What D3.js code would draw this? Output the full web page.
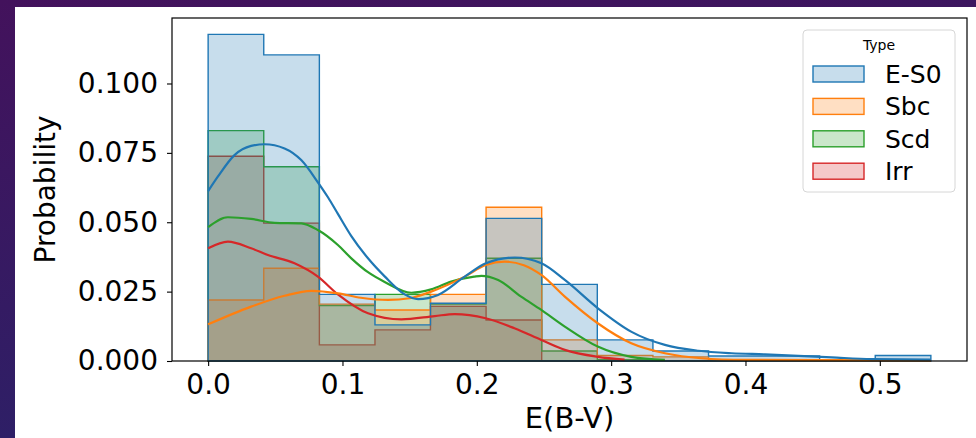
<!DOCTYPE html>
<html>
<head>
<meta charset="utf-8">
<title>E(B-V) histogram</title>
<script src="https://cdn.jsdelivr.net/npm/d3@7"></script>
<style>
  body { margin: 0; background: #ffffff; }
  svg { display: block; font-family: "DejaVu Sans", sans-serif; }
</style>
</head>
<body>
<svg width="976" height="438"></svg>
<script>
// histogram bins (E(B-V)), 13 bins from 0 to 0.538
var binEdges = [0, 0.0414, 0.0828, 0.1242, 0.1655, 0.2069, 0.2483, 0.2897, 0.3311, 0.3725, 0.4138, 0.4552, 0.4966, 0.538];
var types = ["E-S0", "Sbc", "Scd", "Irr"];
var colors = ["#1f77b4", "#ff7f0e", "#2ca02c", "#d62728"];

// probability per bin
var histES0 = [0.1177, 0.1103, 0.0240, 0.0130, 0.0208, 0.0514, 0.0276, 0.0076, 0.0036, 0.0018, 0.0018, 0, 0.0020];
var histSbc = [0.0220, 0.0334, 0.0205, 0.0184, 0.0240, 0.0554, 0.0076, 0.0020, 0.0015, 0.0005, 0, 0, 0];
var histScd = [0.0830, 0.0700, 0.0200, 0.0240, 0.0205, 0.0370, 0.0036, 0.0005, 0, 0, 0, 0, 0];
var histIrr = [0.0738, 0.0497, 0.0058, 0.0112, 0.0197, 0.0148, 0, 0, 0, 0, 0, 0, 0];

// kde curves, [x, y] points
var kdeES0 = [[0, 0.0612], [0.0072, 0.0664], [0.0196, 0.0742], [0.0320, 0.0775], [0.0420, 0.0781], [0.0569, 0.0766],
  [0.0693, 0.0724], [0.0817, 0.0644], [0.0892, 0.0590], [0.0966, 0.0530], [0.1066, 0.0450], [0.1190, 0.0370],
  [0.1314, 0.0305], [0.1463, 0.0240], [0.1563, 0.0223], [0.1712, 0.0238], [0.1910, 0.0304], [0.2068, 0.0352],
  [0.2283, 0.0373], [0.2481, 0.0352], [0.2655, 0.0292], [0.2904, 0.0189], [0.3152, 0.0105], [0.3400, 0.0058],
  [0.3649, 0.0037], [0.3897, 0.0028], [0.4145, 0.0024], [0.4642, 0.0013], [0.4940, 0.0007], [0.538, 0.0005]];
var kdeSbc = [[0, 0.0132], [0.0320, 0.0196], [0.0569, 0.0235], [0.0768, 0.0253], [0.0966, 0.0244], [0.1137, 0.0228],
  [0.1340, 0.0220], [0.1500, 0.0226], [0.1660, 0.0250], [0.1910, 0.0304], [0.2066, 0.0346], [0.2208, 0.0358],
  [0.2350, 0.0345], [0.2480, 0.0310], [0.2655, 0.0232], [0.2900, 0.0136], [0.3150, 0.0064], [0.3400, 0.0028],
  [0.3670, 0.0010], [0.4000, 0.0004], [0.4500, 0.0003], [0.538, 0.0002]];
var kdeScd = [[0, 0.0482], [0.0147, 0.0518], [0.0320, 0.0512], [0.0494, 0.0498], [0.0693, 0.0496], [0.0817, 0.0472],
  [0.0966, 0.0418], [0.1066, 0.0370], [0.1190, 0.0320], [0.1314, 0.0285], [0.1513, 0.0246], [0.1660, 0.0258],
  [0.1810, 0.0286], [0.1980, 0.0304], [0.2034, 0.0307], [0.2159, 0.0292], [0.2330, 0.0232], [0.2480, 0.0184],
  [0.2655, 0.0124], [0.2900, 0.0052], [0.3150, 0.0015], [0.3400, 0.0004]];
var kdeIrr = [[0, 0.0406], [0.0147, 0.0430], [0.0320, 0.0406], [0.0445, 0.0382], [0.0643, 0.0352], [0.0817, 0.0304],
  [0.0966, 0.0240], [0.1190, 0.0172], [0.1438, 0.0150], [0.1687, 0.0162], [0.1835, 0.0169], [0.2066, 0.0154],
  [0.2280, 0.0118], [0.2480, 0.0076], [0.2655, 0.0040], [0.2900, 0.0015], [0.3100, 0.0005]];

var xTicks = [0.0, 0.1, 0.2, 0.3, 0.4, 0.5];
var yTicks = [0.000, 0.025, 0.050, 0.075, 0.100];

var hists = [histES0, histSbc, histScd, histIrr];
var kdes = [kdeES0, kdeSbc, kdeScd, kdeIrr];

var svg = d3.select("svg");

// slide background round the white figure
var defs = svg.append("defs");
var grad = defs.append("linearGradient").attr("id", "bg").attr("x1", 0).attr("y1", 0).attr("x2", 0.3).attr("y2", 1);
grad.append("stop").attr("offset", 0).attr("stop-color", "#43125c");
grad.append("stop").attr("offset", 1).attr("stop-color", "#2c2067");
svg.append("rect").attr("width", 976).attr("height", 438).attr("fill", "url(#bg)");
svg.append("rect").attr("x", 15).attr("y", 7).attr("width", 961).attr("height", 431).attr("fill", "#ffffff");

var box = {l: 172, r: 967, t: 18, b: 361};
var x = d3.scaleLinear().domain([-0.0269, 0.5649]).range([box.l, box.r]);
var y = d3.scaleLinear().domain([0, 0.1236]).range([box.b, box.t]);

// step fills
function stepPath(vals) {
  var p = d3.path();
  p.moveTo(x(binEdges[0]), y(0));
  vals.forEach(function(v, i) {
    p.lineTo(x(binEdges[i]), y(v));
    p.lineTo(x(binEdges[i + 1]), y(v));
  });
  p.lineTo(x(binEdges[binEdges.length - 1]), y(0));
  p.closePath();
  return p.toString();
}

var plot = svg.append("g");
for (var i = hists.length - 1; i >= 0; i--) {
  plot.append("path")
    .attr("d", stepPath(hists[i]))
    .attr("fill", colors[i])
    .attr("fill-opacity", 0.25)
    .attr("stroke", colors[i])
    .attr("stroke-width", 1.4)
    .attr("stroke-linejoin", "miter");
}

var line = d3.line().x(function(d) { return x(d[0]); }).y(function(d) { return y(d[1]); }).curve(d3.curveMonotoneX);
for (var j = kdes.length - 1; j >= 0; j--) {
  plot.append("path")
    .attr("d", line(kdes[j]))
    .attr("fill", "none")
    .attr("stroke", colors[j])
    .attr("stroke-width", 2.2);
}

// axes
var xAxis = svg.append("g")
  .attr("transform", "translate(0," + box.b + ")")
  .call(d3.axisBottom(x).tickValues(xTicks).tickFormat(d3.format(".1f")).tickSize(5).tickPadding(8));
var yAxis = svg.append("g")
  .attr("transform", "translate(" + box.l + ",0)")
  .call(d3.axisLeft(y).tickValues(yTicks).tickFormat(d3.format(".3f")).tickSize(5).tickPadding(9));
[xAxis, yAxis].forEach(function(a) {
  a.select(".domain").remove();
  a.selectAll("line").attr("stroke", "#000").attr("stroke-width", 1.1);
  a.selectAll("text").attr("font-size", 28).attr("fill", "#000").attr("font-family", "DejaVu Sans");
});

svg.append("rect")
  .attr("x", box.l).attr("y", box.t).attr("width", box.r - box.l).attr("height", box.b - box.t)
  .attr("fill", "none").attr("stroke", "#000").attr("stroke-width", 1.2);

svg.append("text")
  .attr("x", (box.l + box.r) / 2).attr("y", 428)
  .attr("text-anchor", "middle").attr("font-size", 29)
  .text("E(B-V)");
svg.append("text")
  .attr("transform", "translate(55," + ((box.t + box.b) / 2) + ") rotate(-90)")
  .attr("text-anchor", "middle").attr("font-size", 28)
  .text("Probability");

// legend
var lg = svg.append("g").attr("transform", "translate(803,30)");
lg.append("rect").attr("width", 152).attr("height", 162).attr("rx", 4)
  .attr("fill", "#fff").attr("fill-opacity", 0.8).attr("stroke", "#d6d6d6").attr("stroke-width", 1);
lg.append("text").attr("x", 76).attr("y", 20).attr("text-anchor", "middle").attr("font-size", 14).text("Type");
types.forEach(function(t, k) {
  var row = lg.append("g").attr("transform", "translate(0," + (44 + k * 32.4) + ")");
  row.append("rect").attr("x", 10).attr("y", -8).attr("width", 51).attr("height", 16)
    .attr("fill", colors[k]).attr("fill-opacity", 0.25).attr("stroke", colors[k]).attr("stroke-width", 1.4);
  row.append("text").attr("x", 82).attr("y", 9).attr("font-size", 25).text(t);
});
</script>
</body>
</html>
